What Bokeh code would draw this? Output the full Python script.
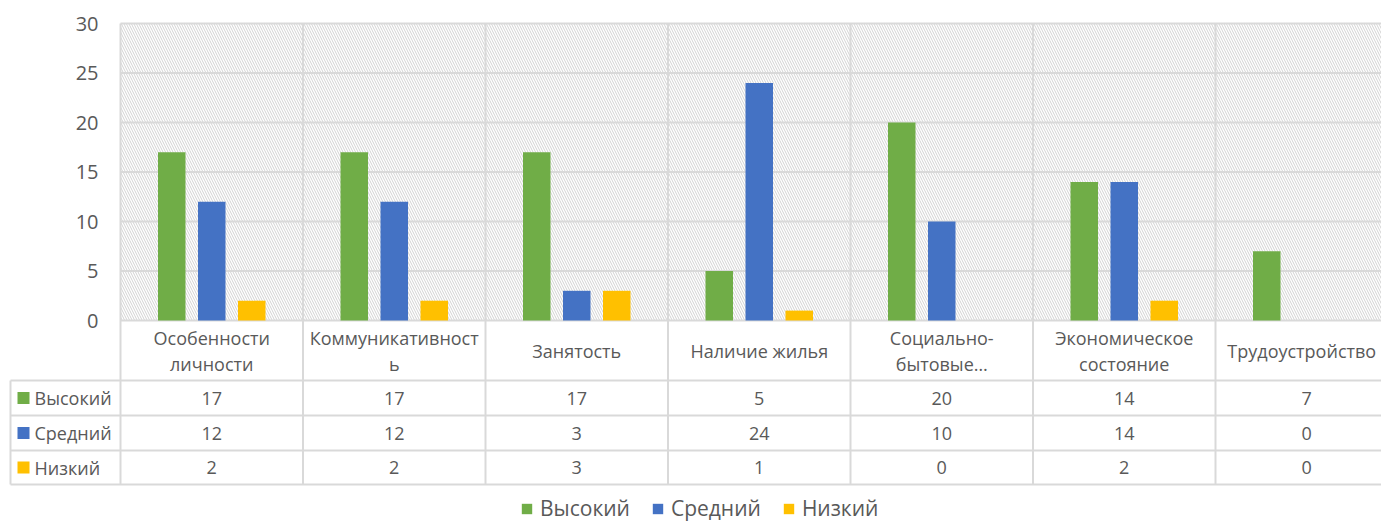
from bokeh.plotting import figure
from bokeh.models import Range1d, ColumnDataSource, Legend, LegendItem
from bokeh.core.properties import value
from bokeh.embed import file_html
from bokeh.resources import INLINE

# ---------------- data ----------------
categories = ["Особенности\nличности", "Коммуникативност\nь", "Занятость",
              "Наличие жилья", "Социально-\nбытовые…", "Экономическое\nсостояние",
              "Трудоустройство"]
series_names = ["Высокий", "Средний", "Низкий"]
high = [17, 17, 17, 5, 20, 14, 7]
medium = [12, 12, 3, 24, 10, 14, 0]
low = [2, 2, 3, 1, 0, 2, 0]
y_ticks = [0, 5, 10, 15, 20, 25, 30]
colors = ["#70AD47", "#4472C4", "#FFC000"]

# ---------------- layout (pixels, relative to the figure) ----------------
W, H = 1381, 521
X0_PX = 120.0   # left edge of first category
KX = 182.5      # px per category
Y0_PX = 320.0   # y = 0 line
KY = 9.9        # px per unit

def px2x(px):
    return (px - X0_PX) / KX

def py2y(py):
    return (Y0_PX - py) / KY

FONT = value("Open Sans")
TXT = "#595959"
GRID = "#D9D9D9"

p = figure(width=W, height=H, output_backend="svg", toolbar_location=None,
           x_range=Range1d(px2x(0), px2x(W)), y_range=Range1d(py2y(H), py2y(0)),
           x_axis_location=None, y_axis_location=None, min_border=0,
           background_fill_color="white", border_fill_color="white")
p.outline_line_color = None
p.xgrid.visible = False
p.ygrid.visible = False

n = len(categories)
ymax = max(y_ticks)

# hatched plot area
p.quad(left=[0], right=[n], bottom=[0], top=[ymax], fill_color="white",
       line_color=None, hatch_pattern="\\", hatch_color="#D2D2D2",
       hatch_scale=5, hatch_weight=1)

# horizontal grid
p.segment(x0=[0] * len(y_ticks), x1=[n] * len(y_ticks), y0=y_ticks, y1=y_ticks,
          line_color=GRID, line_width=2)

# table geometry
table_left = px2x(10)
row_lines = [py2y(v) for v in (380, 415, 450, 484)]
row_centers = [(row_lines[i] + row_lines[i + 1]) / 2 for i in range(3)]
table_bottom = row_lines[-1]

# vertical lines (plot area + table)
p.segment(x0=list(range(n + 1)), x1=list(range(n + 1)), y0=[ymax] * (n + 1),
          y1=[table_bottom] * (n + 1), line_color=GRID, line_width=2)
p.segment(x0=[table_left], x1=[table_left], y0=[row_lines[0]], y1=[table_bottom],
          line_color=GRID, line_width=2)
p.segment(x0=[table_left] * 4, x1=[n] * 4, y0=row_lines, y1=row_lines,
          line_color=GRID, line_width=2)

# bars
xs = [i + 0.5 for i in range(n)]
off = 40 / KX
bw = 27.5 / KX
src = ColumnDataSource(dict(x=xs, high=high, medium=medium, low=low))
renderers = []
for k, (col, c) in enumerate(zip(["high", "medium", "low"], colors)):
    r = p.vbar(x=[x + (k - 1) * off for x in xs], top=src.data[col], width=bw,
               bottom=0, fill_color=c, line_color=None)
    renderers.append(r)

# y tick labels
p.text(x=[px2x(98)] * len(y_ticks), y=y_ticks, text=[str(t) for t in y_ticks],
       text_align="right", text_baseline="middle", text_font=FONT,
       text_font_size="20px", text_color=TXT)

# category labels (one or two lines each); the last one is nudged left so it
# stays inside the (slightly narrower) canvas
nudge_px = [0, 0, 0, 0, 0, 0, -5]
lx, ly, lt = [], [], []
for x, c, d in zip(xs, categories, nudge_px):
    parts = c.split("\n")
    xx = x + d / KX
    if len(parts) == 1:
        lx.append(xx); ly.append(py2y(350)); lt.append(parts[0])
    else:
        lx += [xx, xx]; ly += [py2y(337), py2y(363)]; lt += parts[:2]
p.text(x=lx, y=ly, text=lt, text_align="center", text_baseline="middle",
       text_font=FONT, text_font_size="18px", text_color=TXT)

# table values
for k, vals in enumerate([high, medium, low]):
    p.text(x=xs, y=[row_centers[k]] * n, text=[str(v) for v in vals],
           text_align="center", text_baseline="middle", text_font=FONT,
           text_font_size="18px", text_color=TXT)

# table row headers with keys
p.scatter(x=[px2x(23)] * 3, y=row_centers, marker="square", size=12,
          fill_color=colors, line_color=None)
p.text(x=[px2x(34)] * 3, y=row_centers, text=series_names, text_align="left",
       text_baseline="middle", text_font=FONT, text_font_size="18px",
       text_color=TXT)

# legend
legend = Legend(items=[LegendItem(label=s, renderers=[r]) for s, r in zip(series_names, renderers)],
                orientation="horizontal", location=(520, -1), padding=0, margin=0,
                spacing=21, label_standoff=7, glyph_width=13, glyph_height=13,
                border_line_color=None, background_fill_alpha=0,
                label_text_font="Open Sans", label_text_font_size="21px",
                label_text_color=TXT)
p.add_layout(legend)

open("out.html", "w").write(file_html(p, INLINE))
